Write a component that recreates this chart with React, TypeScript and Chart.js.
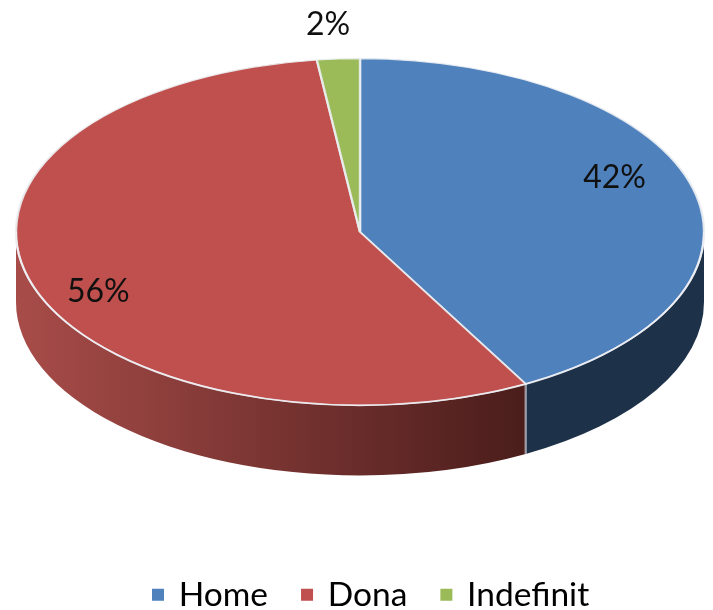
import React, { useEffect, useRef } from "react";
import { Chart, registerables } from "chart.js";

Chart.register(...registerables);

const categories = ["Home", "Dona", "Indefinit"];
const shares = [42, 56, 2];
const percentLabels = ["42%", "56%", "2%"];
const topColors = ["#4F81BD", "#C0504D", "#9BBB59"];
const wallLeftColors = ["#1D3149", "#A84C49", "#6F8A3E"];
const wallRightColors = ["#1D3149", "#4A1D1B", "#6F8A3E"];

const W = 713;
const H = 610;
const CX = 360;
const CY = 232;
const RX = 344;
const SQUASH = 0.504;
const DEPTH = 70;
const LABEL_FONT = '32px Lato, sans-serif';
const labelRadial = [0.764, 0.8, 1.2];
const labelNudge = [[0, -21], [0, 17], [-6, 0]];

const pie3d = {
  id: "pie3d",
  beforeDraw(chart: any) {
    const legend = chart.legend;
    const pad = legend.options.labels.padding;
    legend.left = 154 - pad;
    legend.right = W;
    legend.top = 578 - pad;
  },
  beforeDatasetsDraw(chart: any) {
    const ctx = chart.ctx;
    const arcs = chart.getDatasetMeta(0).data;
    const ry = RX * SQUASH;
    ctx.save();
    // side wall, front half of the ellipse only (canvas angles 0..PI)
    arcs.forEach((arc: any, i: number) => {
      let a = arc.startAngle;
      let b = arc.endAngle;
      const two = Math.PI * 2;
      if (b > two) {
        a -= two;
        b -= two;
      }
      const s = Math.max(a, 0);
      const e = Math.min(b, Math.PI);
      if (e <= s) return;
      const g = ctx.createLinearGradient(CX - RX, 0, CX + 165, 0);
      g.addColorStop(0, wallLeftColors[i]);
      g.addColorStop(1, wallRightColors[i]);
      ctx.beginPath();
      ctx.ellipse(CX, CY, RX, ry, 0, s, e);
      ctx.ellipse(CX, CY + DEPTH, RX, ry, 0, e, s, true);
      ctx.closePath();
      ctx.fillStyle = g;
      ctx.fill();
      if (s > 0.001) {
        const x = CX + RX * Math.cos(s);
        const y = CY + ry * Math.sin(s);
        ctx.beginPath();
        ctx.moveTo(x, y);
        ctx.lineTo(x, y + DEPTH);
        ctx.strokeStyle = "rgba(200,205,215,0.6)";
        ctx.lineWidth = 2.5;
        ctx.stroke();
      }
    });
    ctx.restore();
    ctx.save();
    const first = arcs[0];
    ctx.translate(CX, CY);
    ctx.scale(1, SQUASH);
    ctx.translate(-first.x, -first.y);
  },
  afterDatasetsDraw(chart: any) {
    const ctx = chart.ctx;
    ctx.restore();
    const arcs = chart.getDatasetMeta(0).data;
    const ry = RX * SQUASH;
    ctx.save();
    // pale seam where the top meets the wall
    ctx.beginPath();
    ctx.ellipse(CX, CY, RX, ry, 0, 0, Math.PI);
    ctx.strokeStyle = "rgba(238,240,244,0.85)";
    ctx.lineWidth = 1.8;
    ctx.stroke();
    ctx.font = LABEL_FONT;
    ctx.fillStyle = "#101010";
    ctx.textAlign = "center";
    ctx.textBaseline = "middle";
    arcs.forEach((arc: any, i: number) => {
      const mid = (arc.startAngle + arc.endAngle) / 2;
      const x = CX + RX * labelRadial[i] * Math.cos(mid) + labelNudge[i][0];
      const y = CY + ry * labelRadial[i] * Math.sin(mid) + labelNudge[i][1];
      ctx.fillText(percentLabels[i], x, y);
    });
    ctx.restore();
  },
};

export default function App() {
  const ref = useRef<HTMLCanvasElement | null>(null);
  useEffect(() => {
    const chart = new Chart(ref.current as HTMLCanvasElement, {
      type: "pie",
      data: {
        labels: categories,
        datasets: [
          {
            data: shares,
            backgroundColor: topColors,
            borderColor: "rgba(235,238,242,0.9)",
            borderWidth: 2.4,
            clip: false,
          } as any,
        ],
      },
      options: {
        responsive: false,
        animation: false,
        radius: RX,
        rotation: 0,
        layout: { padding: 0 },
        plugins: {
          tooltip: { enabled: false },
          legend: {
            position: "bottom",
            align: "start",
            labels: {
              boxWidth: 8,
              boxHeight: 8,
              padding: 35,
              color: "#000",
              font: { family: "Lato, sans-serif", size: 33.5 },
              generateLabels(c: any) {
                return Chart.overrides.pie.plugins.legend.labels
                  .generateLabels(c)
                  .map((l: any) => ({ ...l, lineWidth: 4, strokeStyle: l.fillStyle }));
              },
            },
          },
        },
      } as any,
      plugins: [pie3d],
    });
    return () => chart.destroy();
  }, []);
  return (
    <canvas
      ref={ref}
      width={W}
      height={H}
      style={{ position: "absolute", left: 0, top: 0, display: "block", filter: "blur(0.4px)" }}
    />
  );
}
